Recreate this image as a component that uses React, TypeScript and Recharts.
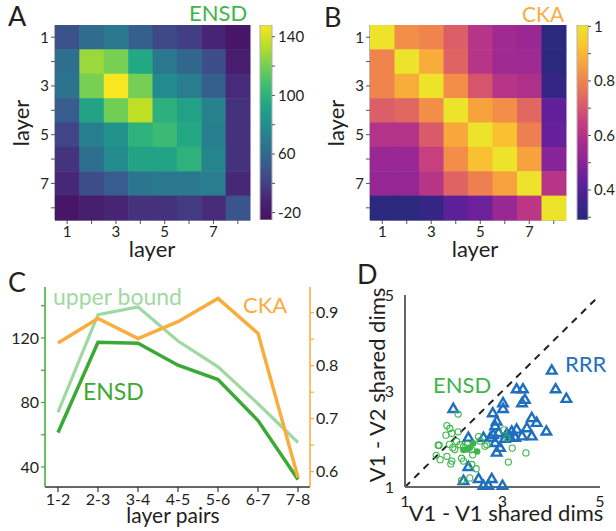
import React from "react";
import {
  ScatterChart,
  Scatter,
  XAxis,
  YAxis,
  BarChart,
  Bar,
  LineChart,
  Line,
  ReferenceLine,
} from "recharts";

const FONT = "Lato, 'Open Sans', sans-serif";
const INK = "#231f20";
const GREEN = "#3aaa35";
const LIGHT_GREEN = "#9fd9a2";
const ORANGE = "#f9ad3c";
const BLUE = "#1f6fbf";

// ---- panel A / B : layer x layer matrices
const layers = [1, 2, 3, 4, 5, 6, 7, 8];

const ensdMatrix = [
  [48, 62, 68, 55, 44, 39, 28, 19],
  [63, 128, 121, 95, 68, 59, 46, 24],
  [66, 121, 148, 120, 78, 71, 55, 31],
  [54, 92, 119, 135, 99, 91, 74, 34],
  [42, 72, 82, 100, 105, 95, 72, 34],
  [35, 63, 78, 92, 92, 100, 75, 34],
  [30, 46, 54, 67, 68, 68, 71, 30],
  [19, 24, 28, 34, 34, 38, 31, 50],
];

const ckaMatrix = [
  [1.0, 0.82, 0.8, 0.72, 0.61, 0.55, 0.54, 0.3],
  [0.8, 1.0, 0.88, 0.73, 0.61, 0.55, 0.55, 0.3],
  [0.8, 0.88, 1.0, 0.82, 0.7, 0.61, 0.59, 0.33],
  [0.72, 0.74, 0.82, 1.0, 0.86, 0.82, 0.74, 0.43],
  [0.6, 0.6, 0.71, 0.87, 1.0, 0.92, 0.79, 0.44],
  [0.54, 0.54, 0.65, 0.82, 0.92, 1.0, 0.86, 0.5],
  [0.53, 0.53, 0.61, 0.73, 0.79, 0.86, 1.0, 0.61],
  [0.3, 0.3, 0.33, 0.42, 0.45, 0.54, 0.62, 1.0],
];

const ensdRange = [15, 148];
const ensdBarTicks = [20, 40, 60, 80, 100, 120, 140];
const ensdBarLabels = [20, 60, 100, 140];
const ensdBarText = ["-20", "60", "100", "140"];
const ckaRange = [0.29, 1.005];
const ckaBarTicks = [0.3, 0.4, 0.5, 0.6, 0.7, 0.8, 0.9, 1];
const ckaBarLabels = [0.4, 0.6, 0.8, 1];
const ckaBarText = ["0.4", "0.6", "0.8", "1"];

// ---- panel C
const layerPairs = ["1-2", "2-3", "3-4", "4-5", "5-6", "6-7", "7-8"];
const ensdPairs = [61.4, 117.3, 116.7, 103.1, 94.2, 68.8, 32.3];
const upperBound = [74, 134.4, 139.2, 118.1, 102.1, 79.2, 55.2];
const ckaPairs = [0.843, 0.889, 0.851, 0.883, 0.927, 0.861, 0.589];
const leftTicks = [40, 60, 80, 100, 120, 140];
const leftLabels = [40, 80, 120];
const rightTicks = [0.6, 0.65, 0.7, 0.75, 0.8, 0.85, 0.9];
const rightLabels = [0.6, 0.7, 0.8, 0.9];

// ---- panel D : [V1-V1, V1-V2]
const rrrDims = [
  [1.99, 2.62], [4.01, 3.42], [3.29, 3.03], [3.42, 3.03], [4.09, 3.03], [4.31, 2.83],
  [3.46, 2.81], [3.4, 2.74], [3.01, 2.74], [3.01, 2.62], [2.8, 2.53], [3.6, 2.43],
  [3.7, 2.33], [2.88, 2.36], [2.85, 2.26], [3.5, 2.22], [3.9, 2.15], [3.29, 2.19],
  [3.19, 2.15], [2.92, 2.12], [2.81, 2.08], [3.09, 2.1], [3.4, 2.05], [3.6, 2.05],
  [2.3, 2.02], [2.61, 2.02], [2.75, 2.02], [3.26, 2.02], [3.05, 2.0], [3.16, 2.02],
  [2.85, 1.91], [2.95, 1.81], [2.88, 1.71], [2.3, 1.41], [2.2, 1.12], [2.51, 1.16],
  [2.78, 1.16], [2.61, 1.02], [2.71, 1.02], [3.0, 1.02],
];
const ensdDims = [
  [2.09, 2.52], [1.86, 2.28], [1.92, 2.22], [2.09, 2.15], [1.84, 2.08], [1.96, 2.12],
  [1.7, 1.87], [1.91, 1.89], [1.64, 1.66], [1.72, 1.57], [1.86, 1.64], [1.96, 1.54],
  [1.94, 1.48], [2.16, 1.6], [2.2, 1.54], [2.39, 1.67], [2.46, 1.38], [2.16, 1.14],
  [2.33, 1.19], [2.06, 1.95], [2.13, 1.88], [2.02, 1.78], [2.28, 1.89], [2.37, 1.78],
  [2.51, 2.05], [2.54, 1.96], [2.68, 1.88], [2.64, 1.85], [3.03, 2.19], [3.09, 2.02],
  [3.2, 1.81], [3.48, 1.71], [3.12, 1.52], [1.68, 1.87], [2.37, 1.47], [1.98, 1.82],
  [2.2, 1.84],
];
const ensdDimsFilled = [[2.4, 1.91], [2.28, 1.78], [2.48, 1.74], [2.2, 1.77], [2.33, 1.82]];
const dimTicks = [1, 3, 5];

// ---- colormaps (as printed in the figure, a bit muted)
const VIRIDIS = ["#46105f", "#482475", "#414487", "#355f8d", "#2a788e", "#21918c", "#22a884", "#44bf70", "#7ad151", "#bddf26", "#f8e621"];
const PLASMA = ["#262a7a", "#40238f", "#62209a", "#8a2499", "#a92d8e", "#c63e7f", "#dc5e66", "#ee7f50", "#f8a33d", "#f9c72e", "#ece52a"];

function hex(c: string) {
  return [1, 3, 5].map((i) => parseInt(c.slice(i, i + 2), 16));
}
function mapColor(stops: string[], t: number) {
  const tt = Math.max(0, Math.min(1, t)) * (stops.length - 1);
  const i = Math.min(stops.length - 2, Math.floor(tt));
  const f = tt - i;
  const a = hex(stops[i]);
  const b = hex(stops[i + 1]);
  const c = a.map((v, k) => Math.round(v + (b[k] - v) * f));
  return `rgb(${c[0]},${c[1]},${c[2]})`;
}

const tickStyle = { fontSize: 15, fill: INK, fontFamily: FONT };

function Heatmap(props: {
  matrix: number[][];
  stops: string[];
  range: number[];
  width: number;
  yWidth: number;
}) {
  const { matrix, stops, range, width, yWidth } = props;
  const [lo, hi] = range;
  const height = 262;
  const cellW = (width - yWidth - 2) / 8;
  const cellH = (height - 25 - 42) / 8;
  const cells = matrix.flatMap((row, r) =>
    row.map((v, c) => ({ x: layers[c], y: layers[r], v }))
  );
  const odd = (v: number) => (v % 2 === 1 ? String(v) : "");
  return (
    <ScatterChart width={width} height={height} margin={{ top: 25, right: 2, bottom: 0, left: 0 }}>
      <XAxis
        type="number"
        dataKey="x"
        domain={[0.5, 8.5]}
        ticks={layers}
        interval={0}
        tickFormatter={odd}
        height={42}
        axisLine={{ stroke: "#a0a0a0", strokeWidth: 1.5 }}
        tickLine={{ stroke: "#555" }}
        tickSize={4}
        tick={tickStyle}
      />
      <YAxis
        type="number"
        dataKey="y"
        domain={[0.5, 8.5]}
        reversed
        ticks={layers}
        interval={0}
        tickFormatter={odd}
        width={yWidth}
        axisLine={{ stroke: "#a0a0a0", strokeWidth: 1.5 }}
        tickLine={{ stroke: "#555" }}
        tickSize={4}
        tick={tickStyle}
      />
      <Scatter
        data={cells}
        isAnimationActive={false}
        shape={(p: any) => (
          <rect
            x={p.cx - cellW / 2}
            y={p.cy - cellH / 2}
            width={cellW + 0.5}
            height={cellH + 0.5}
            fill={mapColor(stops, (p.payload.v - lo) / (hi - lo))}
          />
        )}
      />
    </ScatterChart>
  );
}

function ColorBar(props: {
  id: string;
  stops: string[];
  range: number[];
  ticks: number[];
  labels: number[];
  text: string[];
  barWidth: number;
  axisWidth: number;
}) {
  const { id, stops, range, ticks, labels, text, barWidth, axisWidth } = props;
  const data = [{ name: "bar", span: range }];
  const fmt = (v: number) => {
    const i = labels.findIndex((l) => Math.abs(l - v) < 1e-6);
    return i >= 0 ? text[i] : "";
  };
  return (
    <BarChart
      width={barWidth + axisWidth + 2}
      height={262}
      data={data}
      margin={{ top: 25, right: 0, bottom: 42, left: 2 }}
      barCategoryGap={0}
      barGap={0}
    >
      <defs>
        <linearGradient id={id} x1="0" y1="1" x2="0" y2="0">
          {stops.map((c, i) => (
            <stop key={i} offset={i / (stops.length - 1)} stopColor={c} />
          ))}
        </linearGradient>
      </defs>
      <XAxis dataKey="name" hide />
      <YAxis
        orientation="right"
        type="number"
        domain={range}
        ticks={ticks}
        interval={0}
        width={axisWidth}
        tickFormatter={fmt}
        axisLine={false}
        tickLine={{ stroke: "#555" }}
        tickSize={3}
        tickMargin={3}
        tick={tickStyle}
        allowDataOverflow
      />
      <Bar dataKey="span" fill={`url(#${id})`} stroke="#b0b0b0" strokeWidth={1} isAnimationActive={false} />
    </BarChart>
  );
}

function PairsChart() {
  const data = layerPairs.map((pair, i) => ({
    pair,
    ensd: ensdPairs[i],
    upper: upperBound[i],
    cka: ckaPairs[i],
  }));
  const t16 = { ...tickStyle, fontSize: 16 };
  return (
    <LineChart width={345} height={261} data={data} margin={{ top: 17, right: 5, bottom: 0, left: 0 }}>
      <XAxis
        dataKey="pair"
        padding={{ left: 13, right: 12 }}
        height={44}
        interval={0}
        axisLine={{ stroke: "#333", strokeWidth: 1.5 }}
        tickLine={{ stroke: "#333", strokeWidth: 1.2 }}
        tickSize={5}
        tick={t16}
      />
      <YAxis
        yAxisId="l"
        domain={[27.6, 151.6]}
        ticks={leftTicks}
        interval={0}
        width={45}
        tickFormatter={(v: number) => (leftLabels.includes(v) ? String(v) : "")}
        axisLine={{ stroke: GREEN, strokeWidth: 1.5 }}
        tickLine={{ stroke: GREEN, strokeWidth: 1.2 }}
        tickSize={4}
        tick={t16}
        allowDataOverflow
      />
      <YAxis
        yAxisId="r"
        orientation="right"
        domain={[0.571, 0.9485]}
        ticks={rightTicks}
        interval={0}
        width={30}
        tickFormatter={(v: number) => (rightLabels.some((l) => Math.abs(l - v) < 1e-6) ? v.toFixed(1) : "")}
        axisLine={{ stroke: ORANGE, strokeWidth: 1.5 }}
        tickLine={{ stroke: ORANGE, strokeWidth: 1.2 }}
        tickSize={4}
        tick={t16}
        allowDataOverflow
      />
      <Line yAxisId="l" dataKey="upper" stroke={LIGHT_GREEN} strokeWidth={3.2} dot={false} isAnimationActive={false} />
      <Line yAxisId="l" dataKey="ensd" stroke={GREEN} strokeWidth={3.5} dot={false} isAnimationActive={false} />
      <Line yAxisId="r" dataKey="cka" stroke={ORANGE} strokeWidth={3.5} dot={false} isAnimationActive={false} />
    </LineChart>
  );
}

const triangle = (p: any) => {
  const s = 9.5;
  const h = s * 0.866;
  const pts = `${p.cx},${p.cy - (2 * h) / 3} ${p.cx - s / 2},${p.cy + h / 3} ${p.cx + s / 2},${p.cy + h / 3}`;
  return <polygon points={pts} fill="none" stroke={BLUE} strokeWidth={2.4} />;
};
const ring = (p: any) => <circle cx={p.cx} cy={p.cy} r={3.1} fill="none" stroke="#3db54a" strokeWidth={1.1} />;
const dotFilled = (p: any) => <circle cx={p.cx} cy={p.cy} r={3.3} fill="#3db54a" />;

function DimsChart() {
  const toPts = (arr: number[][]) => arr.map(([x, y]) => ({ x, y }));
  const t16 = { ...tickStyle, fontSize: 16 };
  return (
    <ScatterChart width={236} height={261} margin={{ top: 25, right: 16, bottom: 0, left: 0 }}>
      <XAxis
        type="number"
        dataKey="x"
        domain={[1, 5]}
        ticks={dimTicks}
        interval={0}
        height={44}
        axisLine={{ stroke: "#666", strokeWidth: 2 }}
        tickLine={false}
        tickMargin={3}
        tick={t16}
      />
      <YAxis
        type="number"
        dataKey="y"
        domain={[1, 5]}
        ticks={dimTicks}
        interval={0}
        width={25}
        axisLine={{ stroke: "#666", strokeWidth: 2 }}
        tickLine={false}
        tickMargin={5}
        tick={t16}
      />
      <ReferenceLine
        segment={[{ x: 1, y: 1 }, { x: 4.95, y: 4.95 }]}
        stroke="#222"
        strokeWidth={2}
        strokeDasharray="7 6"
      />
      <Scatter data={toPts(rrrDims)} shape={triangle} isAnimationActive={false} />
      <Scatter data={toPts(ensdDims)} shape={ring} isAnimationActive={false} />
      <Scatter data={toPts(ensdDimsFilled)} shape={dotFilled} isAnimationActive={false} />
    </ScatterChart>
  );
}

const abs = (left: number, top: number): React.CSSProperties => ({ position: "absolute", left, top });

function Label(props: { x: number; y: number; size: number; color?: string; children: React.ReactNode }) {
  return (
    <div
      style={{
        position: "absolute",
        left: props.x,
        top: props.y,
        fontSize: props.size,
        color: props.color || INK,
        fontFamily: FONT,
        lineHeight: 1,
        whiteSpace: "nowrap",
      }}
    >
      {props.children}
    </div>
  );
}

function Centered(props: { cx: number; cy: number; size: number; rotate?: boolean; color?: string; children: React.ReactNode }) {
  return (
    <div
      style={{
        position: "absolute",
        left: props.cx,
        top: props.cy,
        transform: `translate(-50%, -50%)${props.rotate ? " rotate(-90deg)" : ""}`,
        fontSize: props.size,
        color: props.color || INK,
        fontFamily: FONT,
        lineHeight: 1,
        whiteSpace: "nowrap",
      }}
    >
      {props.children}
    </div>
  );
}

export default function App() {
  return (
    <div style={{ position: "absolute", left: 0, top: 0, width: 616, height: 531, background: "#fff", overflow: "hidden" }}>
      <div style={abs(0, 0)}>
        <Heatmap matrix={ensdMatrix} stops={VIRIDIS} range={ensdRange} width={252} yWidth={55} />
      </div>
      <div style={abs(258, 0)}>
        <ColorBar id="viridisBar" stops={VIRIDIS} range={ensdRange} ticks={ensdBarTicks} labels={ensdBarLabels} text={ensdBarText} barWidth={12} axisWidth={40} />
      </div>
      <div style={abs(300, 0)}>
        <Heatmap matrix={ckaMatrix} stops={PLASMA} range={ckaRange} width={268} yWidth={70} />
      </div>
      <div style={abs(575, 0)}>
        <ColorBar id="plasmaBar" stops={PLASMA} range={ckaRange} ticks={ckaBarTicks} labels={ckaBarLabels} text={ckaBarText} barWidth={11} axisWidth={28} />
      </div>
      <div style={abs(0, 270)}>
        <PairsChart />
      </div>
      <div style={abs(380, 270)}>
        <DimsChart />
      </div>

      <Label x={8} y={2} size={27}>A</Label>
      <Label x={189} y={2} size={22} color="#40b54a">ENSD</Label>
      <Centered cx={152} cy={249} size={22}>layer</Centered>
      <Centered cx={21} cy={123} size={22} rotate>layer</Centered>

      <Label x={324} y={3} size={27}>B</Label>
      <Label x={522} y={3} size={21} color={ORANGE}>CKA</Label>
      <Centered cx={475} cy={249} size={22}>layer</Centered>
      <Centered cx={336} cy={123} size={22} rotate>layer</Centered>

      <Label x={8} y={268} size={27}>C</Label>
      <Label x={53} y={285} size={23} color={LIGHT_GREEN}>upper bound</Label>
      <Label x={243} y={294} size={22} color={ORANGE}>CKA</Label>
      <Label x={83} y={380} size={23} color={GREEN}>ENSD</Label>
      <Centered cx={173} cy={514} size={21}>layer pairs</Centered>

      <Label x={357} y={260} size={27}>D</Label>
      <Label x={433} y={374} size={22} color="#40b54a">ENSD</Label>
      <Label x={565} y={353} size={22} color={BLUE}>RRR</Label>
      <Centered cx={506} cy={513} size={22}>V1 - V1 shared dims</Centered>
      <Centered cx={377} cy={385} size={22} rotate>V1 - V2 shared dims</Centered>
    </div>
  );
}
